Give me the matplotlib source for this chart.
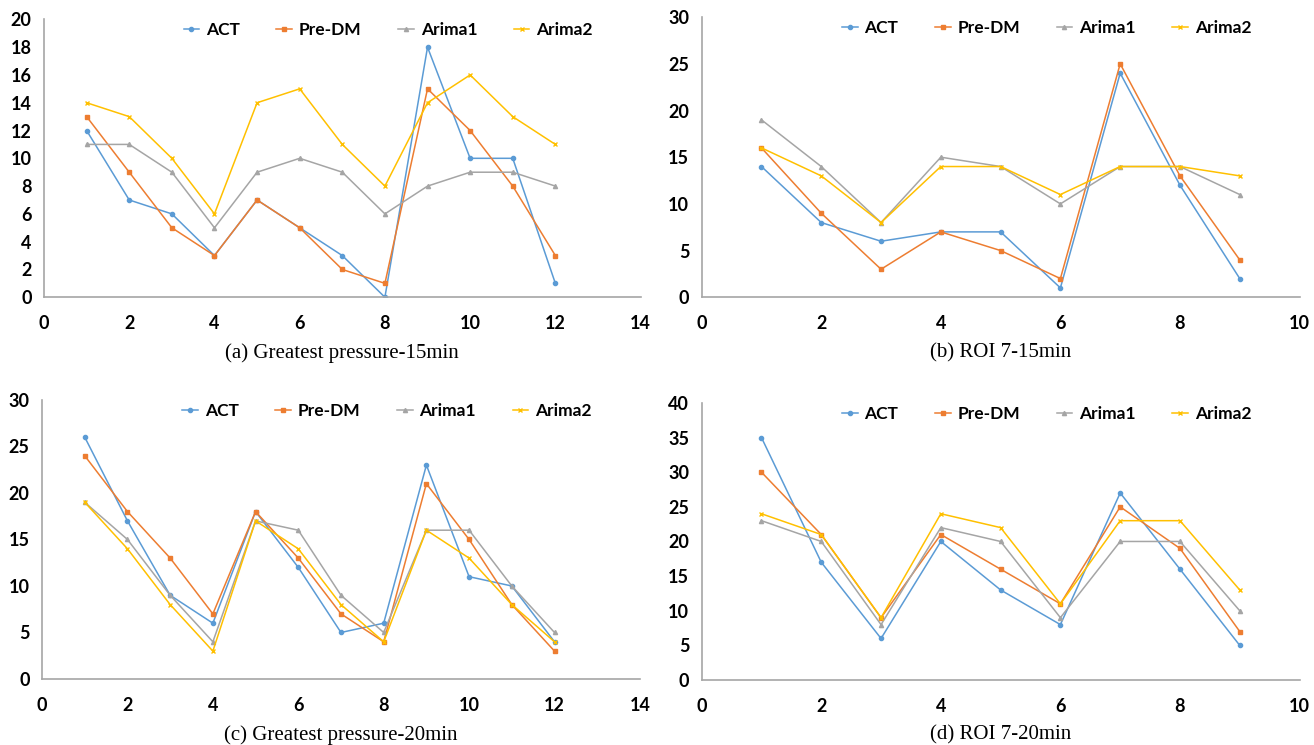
import matplotlib.pyplot as plt

# data
x12 = list(range(1, 13))
x9 = list(range(1, 10))

act_a = [12, 7, 6, 3, 7, 5, 3, 0, 18, 10, 10, 1]
pre_a = [13, 9, 5, 3, 7, 5, 2, 1, 15, 12, 8, 3]
ar1_a = [11, 11, 9, 5, 9, 10, 9, 6, 8, 9, 9, 8]
ar2_a = [14, 13, 10, 6, 14, 15, 11, 8, 14, 16, 13, 11]

act_b = [14, 8, 6, 7, 7, 1, 24, 12, 2]
pre_b = [16, 9, 3, 7, 5, 2, 25, 13, 4]
ar1_b = [19, 14, 8, 15, 14, 10, 14, 14, 11]
ar2_b = [16, 13, 8, 14, 14, 11, 14, 14, 13]

act_c = [26, 17, 9, 6, 18, 12, 5, 6, 23, 11, 10, 4]
pre_c = [24, 18, 13, 7, 18, 13, 7, 4, 21, 15, 8, 3]
ar1_c = [19, 15, 9, 4, 17, 16, 9, 5, 16, 16, 10, 5]
ar2_c = [19, 14, 8, 3, 17, 14, 8, 4, 16, 13, 8, 4]

act_d = [35, 17, 6, 20, 13, 8, 27, 16, 5]
pre_d = [30, 21, 9, 21, 16, 11, 25, 19, 7]
ar1_d = [23, 20, 8, 22, 20, 9, 20, 20, 10]
ar2_d = [24, 21, 9, 24, 22, 11, 23, 23, 13]

names = ["ACT", "Pre-DM", "Arima1", "Arima2"]
colors = ["#5B9BD5", "#ED7D31", "#A5A5A5", "#FFC000"]
markers = ["o", "s", "^", "x"]

fig = plt.figure(figsize=(13.14, 7.45), dpi=100)

def panel(rect, x, series, xmax, ymax, ystep, caption, cap_y):
    ax = fig.add_axes(rect)
    for s, name, c, m in zip(series, names, colors, markers):
        ax.plot(x, s, color=c, marker=m, markersize=3, linewidth=1.1, label=name)
    ax.set_xlim(0, xmax)
    ax.set_ylim(0, ymax)
    ax.set_xticks(range(0, xmax + 1, 2))
    ax.set_yticks(range(0, ymax + 1, ystep))
    for sp in ["top", "right"]:
        ax.spines[sp].set_visible(False)
    for sp in ["left", "bottom"]:
        ax.spines[sp].set_color("#A6A6A6")
        ax.spines[sp].set_linewidth(1.2)
    ax.tick_params(length=0, labelsize=13)
    ax.tick_params(axis="x", pad=13)
    ax.tick_params(axis="y", pad=9)
    for lab in ax.get_xticklabels() + ax.get_yticklabels():
        lab.set_fontweight("bold")
        lab.set_family("Lato")
    ax.legend(loc="center", bbox_to_anchor=(0.577, 0.96), ncol=4, frameon=False,
              handlelength=0.9, columnspacing=2.1, handletextpad=0.4,
              borderaxespad=0, borderpad=0,
              prop={"family": "Lato", "weight": "bold", "size": 12.5})
    cx = rect[0] + rect[2] / 2
    fig.text(cx, cap_y, caption, ha="center", va="center",
             family="Liberation Serif", fontsize=15)
    return ax

panel([0.0335, 0.601, 0.454, 0.373], x12, [act_a, pre_a, ar1_a, ar2_a], 14, 20, 2,
      "(a) Greatest pressure-15min", 0.526)
panel([0.534, 0.601, 0.455, 0.376], x9, [act_b, pre_b, ar1_b, ar2_b], 10, 30, 5,
      "(b) ROI 7-15min", 0.526)
panel([0.032, 0.0886, 0.455, 0.3745], x12, [act_c, pre_c, ar1_c, ar2_c], 14, 30, 5,
      "(c) Greatest pressure-20min", 0.013)
panel([0.534, 0.0872, 0.455, 0.372], x9, [act_d, pre_d, ar1_d, ar2_d], 10, 40, 5,
      "(d) ROI 7-20min", 0.013)

fig.savefig("out.png", dpi=100)
